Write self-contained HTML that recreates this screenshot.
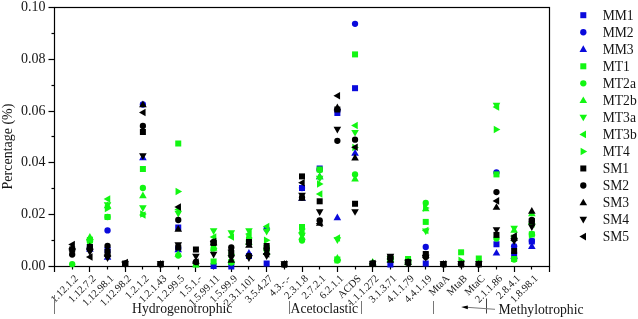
<!DOCTYPE html>
<html><head><meta charset="utf-8"><style>
html,body{margin:0;padding:0;background:#fff;}
body{width:638px;height:319px;overflow:hidden;}
svg{display:block;will-change:transform;}
.t{font-family:"Liberation Serif",serif;font-size:14px;fill:#151515;}
.xl{font-family:"Liberation Serif",serif;font-size:10.5px;fill:#151515;}
.g{font-family:"Liberation Serif",serif;font-size:13.7px;fill:#151515;}
.lg{font-family:"Liberation Serif",serif;font-size:13.6px;fill:#151515;}
</style></head><body>
<svg width="638" height="319" viewBox="0 0 638 319">
<defs><clipPath id="pc"><rect x="54" y="7" width="495" height="259"/></clipPath></defs>
<rect x="54.5" y="7.5" width="495.0" height="259.0" fill="none" stroke="#000" stroke-width="1.2"/>
<line x1="48.5" y1="266.5" x2="54.5" y2="266.5" stroke="#000" stroke-width="1.2"/>
<text x="45.5" y="269.90" text-anchor="end" class="t">0.00</text>
<line x1="51.5" y1="240.5" x2="54.5" y2="240.5" stroke="#000" stroke-width="1.2"/>
<line x1="48.5" y1="214.5" x2="54.5" y2="214.5" stroke="#000" stroke-width="1.2"/>
<text x="45.5" y="217.90" text-anchor="end" class="t">0.02</text>
<line x1="51.5" y1="188.5" x2="54.5" y2="188.5" stroke="#000" stroke-width="1.2"/>
<line x1="48.5" y1="162.5" x2="54.5" y2="162.5" stroke="#000" stroke-width="1.2"/>
<text x="45.5" y="165.90" text-anchor="end" class="t">0.04</text>
<line x1="51.5" y1="136.5" x2="54.5" y2="136.5" stroke="#000" stroke-width="1.2"/>
<line x1="48.5" y1="111.5" x2="54.5" y2="111.5" stroke="#000" stroke-width="1.2"/>
<text x="45.5" y="114.90" text-anchor="end" class="t">0.06</text>
<line x1="51.5" y1="85.5" x2="54.5" y2="85.5" stroke="#000" stroke-width="1.2"/>
<line x1="48.5" y1="59.5" x2="54.5" y2="59.5" stroke="#000" stroke-width="1.2"/>
<text x="45.5" y="62.90" text-anchor="end" class="t">0.08</text>
<line x1="51.5" y1="33.5" x2="54.5" y2="33.5" stroke="#000" stroke-width="1.2"/>
<line x1="48.5" y1="7.5" x2="54.5" y2="7.5" stroke="#000" stroke-width="1.2"/>
<text x="45.5" y="10.90" text-anchor="end" class="t">0.10</text>
<line x1="54.5" y1="266.5" x2="54.5" y2="272.0" stroke="#000" stroke-width="1.2"/>
<line x1="72.5" y1="266.5" x2="72.5" y2="269.5" stroke="#000" stroke-width="1.2"/>
<line x1="89.5" y1="266.5" x2="89.5" y2="272.0" stroke="#000" stroke-width="1.2"/>
<line x1="107.5" y1="266.5" x2="107.5" y2="269.5" stroke="#000" stroke-width="1.2"/>
<line x1="125.5" y1="266.5" x2="125.5" y2="272.0" stroke="#000" stroke-width="1.2"/>
<line x1="142.5" y1="266.5" x2="142.5" y2="269.5" stroke="#000" stroke-width="1.2"/>
<line x1="160.5" y1="266.5" x2="160.5" y2="272.0" stroke="#000" stroke-width="1.2"/>
<line x1="178.5" y1="266.5" x2="178.5" y2="269.5" stroke="#000" stroke-width="1.2"/>
<line x1="195.5" y1="266.5" x2="195.5" y2="272.0" stroke="#000" stroke-width="1.2"/>
<line x1="213.5" y1="266.5" x2="213.5" y2="269.5" stroke="#000" stroke-width="1.2"/>
<line x1="231.5" y1="266.5" x2="231.5" y2="272.0" stroke="#000" stroke-width="1.2"/>
<line x1="248.5" y1="266.5" x2="248.5" y2="269.5" stroke="#000" stroke-width="1.2"/>
<line x1="266.5" y1="266.5" x2="266.5" y2="272.0" stroke="#000" stroke-width="1.2"/>
<line x1="284.5" y1="266.5" x2="284.5" y2="269.5" stroke="#000" stroke-width="1.2"/>
<line x1="302.5" y1="266.5" x2="302.5" y2="272.0" stroke="#000" stroke-width="1.2"/>
<line x1="319.5" y1="266.5" x2="319.5" y2="269.5" stroke="#000" stroke-width="1.2"/>
<line x1="337.5" y1="266.5" x2="337.5" y2="272.0" stroke="#000" stroke-width="1.2"/>
<line x1="355.5" y1="266.5" x2="355.5" y2="269.5" stroke="#000" stroke-width="1.2"/>
<line x1="372.5" y1="266.5" x2="372.5" y2="272.0" stroke="#000" stroke-width="1.2"/>
<line x1="390.5" y1="266.5" x2="390.5" y2="269.5" stroke="#000" stroke-width="1.2"/>
<line x1="408.5" y1="266.5" x2="408.5" y2="272.0" stroke="#000" stroke-width="1.2"/>
<line x1="425.5" y1="266.5" x2="425.5" y2="269.5" stroke="#000" stroke-width="1.2"/>
<line x1="443.5" y1="266.5" x2="443.5" y2="272.0" stroke="#000" stroke-width="1.2"/>
<line x1="461.5" y1="266.5" x2="461.5" y2="269.5" stroke="#000" stroke-width="1.2"/>
<line x1="478.5" y1="266.5" x2="478.5" y2="272.0" stroke="#000" stroke-width="1.2"/>
<line x1="496.5" y1="266.5" x2="496.5" y2="269.5" stroke="#000" stroke-width="1.2"/>
<line x1="514.5" y1="266.5" x2="514.5" y2="272.0" stroke="#000" stroke-width="1.2"/>
<line x1="531.5" y1="266.5" x2="531.5" y2="269.5" stroke="#000" stroke-width="1.2"/>
<line x1="549.5" y1="266.5" x2="549.5" y2="272.0" stroke="#000" stroke-width="1.2"/>
<text transform="translate(78.78,279) rotate(-45)" text-anchor="end" class="xl">1.12.1.2</text>
<text transform="translate(96.46,279) rotate(-45)" text-anchor="end" class="xl">1.12.7.2</text>
<text transform="translate(114.14,279) rotate(-45)" text-anchor="end" class="xl">1.12.98.1</text>
<text transform="translate(131.81,279) rotate(-45)" text-anchor="end" class="xl">1.12.98.2</text>
<text transform="translate(149.49,279) rotate(-45)" text-anchor="end" class="xl">1.2.1.2</text>
<text transform="translate(167.17,279) rotate(-45)" text-anchor="end" class="xl">1.2.1.43</text>
<text transform="translate(184.85,279) rotate(-45)" text-anchor="end" class="xl">1.2.99.5</text>
<text transform="translate(202.53,279) rotate(-45)" text-anchor="end" class="xl">1.5.1.-</text>
<text transform="translate(220.21,279) rotate(-45)" text-anchor="end" class="xl">1.5.99.11</text>
<text transform="translate(237.89,279) rotate(-45)" text-anchor="end" class="xl">1.5.99.9</text>
<text transform="translate(255.56,279) rotate(-45)" text-anchor="end" class="xl">2.3.1.101</text>
<text transform="translate(273.24,279) rotate(-45)" text-anchor="end" class="xl">3.5.4.27</text>
<text transform="translate(290.92,279) rotate(-45)" text-anchor="end" class="xl">4.3.-.-</text>
<text transform="translate(308.60,279) rotate(-45)" text-anchor="end" class="xl">2.3.1.8</text>
<text transform="translate(326.28,279) rotate(-45)" text-anchor="end" class="xl">2.7.2.1</text>
<text transform="translate(343.96,279) rotate(-45)" text-anchor="end" class="xl">6.2.1.1</text>
<text transform="translate(361.64,279) rotate(-45)" text-anchor="end" class="xl">ACDS</text>
<text transform="translate(379.31,279) rotate(-45)" text-anchor="end" class="xl">1.1.1.272</text>
<text transform="translate(396.99,279) rotate(-45)" text-anchor="end" class="xl">3.1.3.71</text>
<text transform="translate(414.67,279) rotate(-45)" text-anchor="end" class="xl">4.1.1.79</text>
<text transform="translate(432.35,279) rotate(-45)" text-anchor="end" class="xl">4.4.1.19</text>
<text transform="translate(450.03,279) rotate(-45)" text-anchor="end" class="xl">MtaA</text>
<text transform="translate(467.71,279) rotate(-45)" text-anchor="end" class="xl">MtaB</text>
<text transform="translate(485.39,279) rotate(-45)" text-anchor="end" class="xl">MtaC</text>
<text transform="translate(503.06,279) rotate(-45)" text-anchor="end" class="xl">2.1.1.86</text>
<text transform="translate(520.74,279) rotate(-45)" text-anchor="end" class="xl">2.8.4.1</text>
<text transform="translate(538.42,279) rotate(-45)" text-anchor="end" class="xl">1.8.98.1</text>
<text transform="translate(12,146.5) rotate(-90)" text-anchor="middle" class="t">Percentage (%)</text>
<line x1="54.5" y1="295" x2="54.5" y2="314" stroke="#777" stroke-width="1"/>
<text x="132" y="312.8" class="g">Hydrogenotrophic</text>
<line x1="289.5" y1="301" x2="289.5" y2="314" stroke="#777" stroke-width="1"/>
<text x="290.5" y="312.8" class="g">Acetoclastic</text>
<line x1="361.5" y1="301" x2="361.5" y2="314" stroke="#777" stroke-width="1"/>
<line x1="433.5" y1="301" x2="433.5" y2="314" stroke="#777" stroke-width="1"/>
<line x1="486.5" y1="298.5" x2="486.5" y2="313.5" stroke="#444" stroke-width="1"/>
<line x1="467" y1="307.3" x2="495" y2="309.3" stroke="#777" stroke-width="1"/>
<polygon points="461.2,307.1 467.8,305.6 467.8,309.2" fill="#000"/>
<text x="498.4" y="313.7" class="g">Methylotrophic</text>
<rect x="86.86" y="244.00" width="6" height="6" fill="#0a0adc"/>
<rect x="104.54" y="247.00" width="6" height="6" fill="#0a0adc"/>
<rect x="175.25" y="224.50" width="6" height="6" fill="#0a0adc"/>
<rect x="210.61" y="263.00" width="6" height="6" fill="#0a0adc"/>
<rect x="228.29" y="263.50" width="6" height="6" fill="#0a0adc"/>
<rect x="245.96" y="253.00" width="6" height="6" fill="#0a0adc"/>
<rect x="263.64" y="260.50" width="6" height="6" fill="#0a0adc"/>
<rect x="299.00" y="185.00" width="6" height="6" fill="#0a0adc"/>
<rect x="316.68" y="165.50" width="6" height="6" fill="#0a0adc"/>
<rect x="334.36" y="110.00" width="6" height="6" fill="#0a0adc"/>
<rect x="352.04" y="85.20" width="6" height="6" fill="#0a0adc"/>
<rect x="387.39" y="261.50" width="6" height="6" fill="#0a0adc"/>
<rect x="422.75" y="260.50" width="6" height="6" fill="#0a0adc"/>
<rect x="493.46" y="241.25" width="6" height="6" fill="#0a0adc"/>
<rect x="511.14" y="251.80" width="6" height="6" fill="#0a0adc"/>
<rect x="528.82" y="238.50" width="6" height="6" fill="#0a0adc"/>
<circle cx="89.86" cy="249.00" r="3.15" fill="#0a0adc"/>
<circle cx="107.54" cy="230.40" r="3.15" fill="#0a0adc"/>
<circle cx="142.89" cy="104.50" r="3.15" fill="#0a0adc"/>
<circle cx="178.25" cy="248.00" r="3.15" fill="#0a0adc"/>
<circle cx="266.64" cy="229.00" r="3.15" fill="#0a0adc"/>
<circle cx="302.00" cy="188.00" r="3.15" fill="#0a0adc"/>
<circle cx="319.68" cy="169.50" r="3.15" fill="#0a0adc"/>
<circle cx="337.36" cy="110.00" r="3.15" fill="#0a0adc"/>
<circle cx="355.04" cy="23.80" r="3.15" fill="#0a0adc"/>
<circle cx="425.75" cy="247.00" r="3.15" fill="#0a0adc"/>
<circle cx="496.46" cy="172.50" r="3.15" fill="#0a0adc"/>
<circle cx="514.14" cy="246.20" r="3.15" fill="#0a0adc"/>
<circle cx="531.82" cy="241.00" r="3.15" fill="#0a0adc"/>
<polygon points="89.86,245.10 93.66,251.70 86.06,251.70" fill="#0a0adc"/>
<polygon points="107.54,253.10 111.34,259.70 103.74,259.70" fill="#0a0adc"/>
<polygon points="142.89,153.60 146.69,160.20 139.09,160.20" fill="#0a0adc"/>
<polygon points="178.25,245.60 182.05,252.20 174.45,252.20" fill="#0a0adc"/>
<polygon points="248.96,249.10 252.76,255.70 245.16,255.70" fill="#0a0adc"/>
<polygon points="302.00,194.10 305.80,200.70 298.20,200.70" fill="#0a0adc"/>
<polygon points="319.68,172.60 323.48,179.20 315.88,179.20" fill="#0a0adc"/>
<polygon points="337.36,213.60 341.16,220.20 333.56,220.20" fill="#0a0adc"/>
<polygon points="355.04,149.10 358.84,155.70 351.24,155.70" fill="#0a0adc"/>
<polygon points="496.46,248.90 500.26,255.50 492.66,255.50" fill="#0a0adc"/>
<polygon points="514.14,252.10 517.94,258.70 510.34,258.70" fill="#0a0adc"/>
<polygon points="531.82,242.30 535.62,248.90 528.02,248.90" fill="#0a0adc"/>
<rect x="86.86" y="237.00" width="6" height="6" fill="#12f612"/>
<rect x="104.54" y="214.00" width="6" height="6" fill="#12f612"/>
<rect x="139.89" y="166.00" width="6" height="6" fill="#12f612"/>
<rect x="175.25" y="140.50" width="6" height="6" fill="#12f612"/>
<rect x="192.93" y="261.50" width="6" height="6" fill="#12f612"/>
<rect x="210.61" y="258.50" width="6" height="6" fill="#12f612"/>
<rect x="228.29" y="259.00" width="6" height="6" fill="#12f612"/>
<rect x="245.96" y="237.00" width="6" height="6" fill="#12f612"/>
<rect x="263.64" y="245.00" width="6" height="6" fill="#12f612"/>
<rect x="299.00" y="224.00" width="6" height="6" fill="#12f612"/>
<rect x="316.68" y="166.50" width="6" height="6" fill="#12f612"/>
<rect x="334.36" y="256.50" width="6" height="6" fill="#12f612"/>
<rect x="352.04" y="51.40" width="6" height="6" fill="#12f612"/>
<rect x="387.39" y="256.00" width="6" height="6" fill="#12f612"/>
<rect x="405.07" y="256.00" width="6" height="6" fill="#12f612"/>
<rect x="422.75" y="218.90" width="6" height="6" fill="#12f612"/>
<rect x="458.11" y="249.30" width="6" height="6" fill="#12f612"/>
<rect x="475.79" y="255.50" width="6" height="6" fill="#12f612"/>
<rect x="493.46" y="171.40" width="6" height="6" fill="#12f612"/>
<rect x="511.14" y="256.00" width="6" height="6" fill="#12f612"/>
<rect x="528.82" y="231.50" width="6" height="6" fill="#12f612"/>
<circle cx="72.18" cy="264.20" r="3.15" fill="#12f612"/>
<circle cx="89.86" cy="241.00" r="3.15" fill="#12f612"/>
<circle cx="107.54" cy="217.00" r="3.15" fill="#12f612"/>
<circle cx="142.89" cy="188.00" r="3.15" fill="#12f612"/>
<circle cx="178.25" cy="255.50" r="3.15" fill="#12f612"/>
<circle cx="213.61" cy="248.50" r="3.15" fill="#12f612"/>
<circle cx="231.29" cy="262.50" r="3.15" fill="#12f612"/>
<circle cx="248.96" cy="241.00" r="3.15" fill="#12f612"/>
<circle cx="266.64" cy="250.00" r="3.15" fill="#12f612"/>
<circle cx="302.00" cy="240.50" r="3.15" fill="#12f612"/>
<circle cx="319.68" cy="170.00" r="3.15" fill="#12f612"/>
<circle cx="337.36" cy="260.50" r="3.15" fill="#12f612"/>
<circle cx="355.04" cy="174.40" r="3.15" fill="#12f612"/>
<circle cx="390.39" cy="259.00" r="3.15" fill="#12f612"/>
<circle cx="408.07" cy="262.00" r="3.15" fill="#12f612"/>
<circle cx="425.75" cy="203.00" r="3.15" fill="#12f612"/>
<circle cx="496.46" cy="238.60" r="3.15" fill="#12f612"/>
<circle cx="514.14" cy="259.50" r="3.15" fill="#12f612"/>
<circle cx="531.82" cy="234.00" r="3.15" fill="#12f612"/>
<polygon points="89.86,233.10 93.66,239.70 86.06,239.70" fill="#12f612"/>
<polygon points="107.54,201.60 111.34,208.20 103.74,208.20" fill="#12f612"/>
<polygon points="142.89,191.60 146.69,198.20 139.09,198.20" fill="#12f612"/>
<polygon points="178.25,250.10 182.05,256.70 174.45,256.70" fill="#12f612"/>
<polygon points="195.93,260.60 199.73,267.20 192.13,267.20" fill="#12f612"/>
<polygon points="213.61,244.10 217.41,250.70 209.81,250.70" fill="#12f612"/>
<polygon points="248.96,238.10 252.76,244.70 245.16,244.70" fill="#12f612"/>
<polygon points="266.64,248.10 270.44,254.70 262.84,254.70" fill="#12f612"/>
<polygon points="302.00,233.10 305.80,239.70 298.20,239.70" fill="#12f612"/>
<polygon points="319.68,172.60 323.48,179.20 315.88,179.20" fill="#12f612"/>
<polygon points="337.36,254.10 341.16,260.70 333.56,260.70" fill="#12f612"/>
<polygon points="355.04,174.85 358.84,181.45 351.24,181.45" fill="#12f612"/>
<polygon points="372.71,258.10 376.51,264.70 368.91,264.70" fill="#12f612"/>
<polygon points="390.39,255.10 394.19,261.70 386.59,261.70" fill="#12f612"/>
<polygon points="408.07,258.10 411.87,264.70 404.27,264.70" fill="#12f612"/>
<polygon points="425.75,204.60 429.55,211.20 421.95,211.20" fill="#12f612"/>
<polygon points="514.14,226.10 517.94,232.70 510.34,232.70" fill="#12f612"/>
<polygon points="531.82,209.60 535.62,216.20 528.02,216.20" fill="#12f612"/>
<polygon points="89.86,245.90 93.66,239.30 86.06,239.30" fill="#12f612"/>
<polygon points="107.54,208.90 111.34,202.30 103.74,202.30" fill="#12f612"/>
<polygon points="142.89,211.90 146.69,205.30 139.09,205.30" fill="#12f612"/>
<polygon points="178.25,217.40 182.05,210.80 174.45,210.80" fill="#12f612"/>
<polygon points="213.61,234.90 217.41,228.30 209.81,228.30" fill="#12f612"/>
<polygon points="231.29,236.90 235.09,230.30 227.49,230.30" fill="#12f612"/>
<polygon points="248.96,234.90 252.76,228.30 245.16,228.30" fill="#12f612"/>
<polygon points="266.64,235.40 270.44,228.80 262.84,228.80" fill="#12f612"/>
<polygon points="302.00,239.40 305.80,232.80 298.20,232.80" fill="#12f612"/>
<polygon points="319.68,182.40 323.48,175.80 315.88,175.80" fill="#12f612"/>
<polygon points="337.36,243.90 341.16,237.30 333.56,237.30" fill="#12f612"/>
<polygon points="355.04,136.50 358.84,129.90 351.24,129.90" fill="#12f612"/>
<polygon points="390.39,262.90 394.19,256.30 386.59,256.30" fill="#12f612"/>
<polygon points="408.07,265.90 411.87,259.30 404.27,259.30" fill="#12f612"/>
<polygon points="425.75,235.20 429.55,228.60 421.95,228.60" fill="#12f612"/>
<polygon points="496.46,109.40 500.26,102.80 492.66,102.80" fill="#12f612"/>
<polygon points="514.14,232.40 517.94,225.80 510.34,225.80" fill="#12f612"/>
<polygon points="531.82,229.90 535.62,223.30 528.02,223.30" fill="#12f612"/>
<polygon points="85.96,240.00 92.56,236.20 92.56,243.80" fill="#12f612"/>
<polygon points="103.64,199.00 110.24,195.20 110.24,202.80" fill="#12f612"/>
<polygon points="138.99,215.00 145.59,211.20 145.59,218.80" fill="#12f612"/>
<polygon points="174.35,209.50 180.95,205.70 180.95,213.30" fill="#12f612"/>
<polygon points="209.71,237.00 216.31,233.20 216.31,240.80" fill="#12f612"/>
<polygon points="227.39,237.00 233.99,233.20 233.99,240.80" fill="#12f612"/>
<polygon points="245.06,234.00 251.66,230.20 251.66,237.80" fill="#12f612"/>
<polygon points="262.74,226.50 269.34,222.70 269.34,230.30" fill="#12f612"/>
<polygon points="298.10,232.50 304.70,228.70 304.70,236.30" fill="#12f612"/>
<polygon points="315.78,194.00 322.38,190.20 322.38,197.80" fill="#12f612"/>
<polygon points="333.46,238.00 340.06,234.20 340.06,241.80" fill="#12f612"/>
<polygon points="351.14,125.50 357.74,121.70 357.74,129.30" fill="#12f612"/>
<polygon points="386.49,259.00 393.09,255.20 393.09,262.80" fill="#12f612"/>
<polygon points="404.17,262.00 410.77,258.20 410.77,265.80" fill="#12f612"/>
<polygon points="421.85,230.50 428.45,226.70 428.45,234.30" fill="#12f612"/>
<polygon points="492.56,107.00 499.16,103.20 499.16,110.80" fill="#12f612"/>
<polygon points="510.24,237.00 516.84,233.20 516.84,240.80" fill="#12f612"/>
<polygon points="527.92,224.00 534.52,220.20 534.52,227.80" fill="#12f612"/>
<polygon points="93.76,241.00 87.16,237.20 87.16,244.80" fill="#12f612"/>
<polygon points="111.44,208.50 104.84,204.70 104.84,212.30" fill="#12f612"/>
<polygon points="146.79,214.00 140.19,210.20 140.19,217.80" fill="#12f612"/>
<polygon points="182.15,191.50 175.55,187.70 175.55,195.30" fill="#12f612"/>
<polygon points="217.51,248.50 210.91,244.70 210.91,252.30" fill="#12f612"/>
<polygon points="235.19,254.30 228.59,250.50 228.59,258.10" fill="#12f612"/>
<polygon points="252.86,238.00 246.26,234.20 246.26,241.80" fill="#12f612"/>
<polygon points="270.54,240.30 263.94,236.50 263.94,244.10" fill="#12f612"/>
<polygon points="305.90,229.00 299.30,225.20 299.30,232.80" fill="#12f612"/>
<polygon points="323.58,184.00 316.98,180.20 316.98,187.80" fill="#12f612"/>
<polygon points="341.26,260.00 334.66,256.20 334.66,263.80" fill="#12f612"/>
<polygon points="358.94,147.50 352.34,143.70 352.34,151.30" fill="#12f612"/>
<polygon points="394.29,259.00 387.69,255.20 387.69,262.80" fill="#12f612"/>
<polygon points="411.97,262.00 405.37,258.20 405.37,265.80" fill="#12f612"/>
<polygon points="429.65,208.00 423.05,204.20 423.05,211.80" fill="#12f612"/>
<polygon points="465.01,260.40 458.41,256.60 458.41,264.20" fill="#12f612"/>
<polygon points="500.36,129.50 493.76,125.70 493.76,133.30" fill="#12f612"/>
<polygon points="518.04,238.00 511.44,234.20 511.44,241.80" fill="#12f612"/>
<polygon points="535.72,235.00 529.12,231.20 529.12,238.80" fill="#12f612"/>
<rect x="69.18" y="246.50" width="6" height="6" fill="#000"/>
<rect x="86.86" y="244.00" width="6" height="6" fill="#000"/>
<rect x="104.54" y="249.00" width="6" height="6" fill="#000"/>
<rect x="122.21" y="260.50" width="6" height="6" fill="#000"/>
<rect x="139.89" y="129.00" width="6" height="6" fill="#000"/>
<rect x="157.57" y="261.00" width="6" height="6" fill="#000"/>
<rect x="175.25" y="244.50" width="6" height="6" fill="#000"/>
<rect x="192.93" y="246.50" width="6" height="6" fill="#000"/>
<rect x="210.61" y="240.00" width="6" height="6" fill="#000"/>
<rect x="228.29" y="250.00" width="6" height="6" fill="#000"/>
<rect x="245.96" y="239.00" width="6" height="6" fill="#000"/>
<rect x="263.64" y="243.00" width="6" height="6" fill="#000"/>
<rect x="281.32" y="261.50" width="6" height="6" fill="#000"/>
<rect x="299.00" y="173.40" width="6" height="6" fill="#000"/>
<rect x="316.68" y="198.30" width="6" height="6" fill="#000"/>
<rect x="334.36" y="106.50" width="6" height="6" fill="#000"/>
<rect x="352.04" y="200.75" width="6" height="6" fill="#000"/>
<rect x="369.71" y="260.50" width="6" height="6" fill="#000"/>
<rect x="387.39" y="254.00" width="6" height="6" fill="#000"/>
<rect x="405.07" y="259.00" width="6" height="6" fill="#000"/>
<rect x="422.75" y="251.00" width="6" height="6" fill="#000"/>
<rect x="440.43" y="261.00" width="6" height="6" fill="#000"/>
<rect x="458.11" y="261.00" width="6" height="6" fill="#000"/>
<rect x="475.79" y="261.00" width="6" height="6" fill="#000"/>
<rect x="493.46" y="231.90" width="6" height="6" fill="#000"/>
<rect x="511.14" y="248.00" width="6" height="6" fill="#000"/>
<rect x="528.82" y="218.00" width="6" height="6" fill="#000"/>
<circle cx="72.18" cy="254.50" r="3.15" fill="#000"/>
<circle cx="89.86" cy="248.00" r="3.15" fill="#000"/>
<circle cx="107.54" cy="246.00" r="3.15" fill="#000"/>
<circle cx="125.21" cy="264.00" r="3.15" fill="#000"/>
<circle cx="142.89" cy="126.00" r="3.15" fill="#000"/>
<circle cx="160.57" cy="264.50" r="3.15" fill="#000"/>
<circle cx="178.25" cy="220.00" r="3.15" fill="#000"/>
<circle cx="195.93" cy="262.00" r="3.15" fill="#000"/>
<circle cx="213.61" cy="242.00" r="3.15" fill="#000"/>
<circle cx="231.29" cy="247.50" r="3.15" fill="#000"/>
<circle cx="248.96" cy="256.00" r="3.15" fill="#000"/>
<circle cx="266.64" cy="249.00" r="3.15" fill="#000"/>
<circle cx="284.32" cy="264.50" r="3.15" fill="#000"/>
<circle cx="302.00" cy="197.50" r="3.15" fill="#000"/>
<circle cx="319.68" cy="220.50" r="3.15" fill="#000"/>
<circle cx="337.36" cy="140.80" r="3.15" fill="#000"/>
<circle cx="355.04" cy="139.70" r="3.15" fill="#000"/>
<circle cx="372.71" cy="264.00" r="3.15" fill="#000"/>
<circle cx="390.39" cy="258.00" r="3.15" fill="#000"/>
<circle cx="408.07" cy="263.00" r="3.15" fill="#000"/>
<circle cx="425.75" cy="257.00" r="3.15" fill="#000"/>
<circle cx="443.43" cy="264.50" r="3.15" fill="#000"/>
<circle cx="461.11" cy="264.50" r="3.15" fill="#000"/>
<circle cx="478.79" cy="264.50" r="3.15" fill="#000"/>
<circle cx="496.46" cy="192.10" r="3.15" fill="#000"/>
<circle cx="514.14" cy="239.00" r="3.15" fill="#000"/>
<circle cx="531.82" cy="220.00" r="3.15" fill="#000"/>
<polygon points="72.18,243.60 75.98,250.20 68.38,250.20" fill="#000"/>
<polygon points="89.86,242.60 93.66,249.20 86.06,249.20" fill="#000"/>
<polygon points="107.54,250.10 111.34,256.70 103.74,256.70" fill="#000"/>
<polygon points="125.21,260.10 129.01,266.70 121.41,266.70" fill="#000"/>
<polygon points="142.89,100.60 146.69,107.20 139.09,107.20" fill="#000"/>
<polygon points="160.57,260.10 164.37,266.70 156.77,266.70" fill="#000"/>
<polygon points="178.25,225.10 182.05,231.70 174.45,231.70" fill="#000"/>
<polygon points="195.93,257.10 199.73,263.70 192.13,263.70" fill="#000"/>
<polygon points="213.61,238.60 217.41,245.20 209.81,245.20" fill="#000"/>
<polygon points="231.29,256.10 235.09,262.70 227.49,262.70" fill="#000"/>
<polygon points="248.96,241.10 252.76,247.70 245.16,247.70" fill="#000"/>
<polygon points="266.64,248.10 270.44,254.70 262.84,254.70" fill="#000"/>
<polygon points="284.32,260.10 288.12,266.70 280.52,266.70" fill="#000"/>
<polygon points="302.00,194.10 305.80,200.70 298.20,200.70" fill="#000"/>
<polygon points="319.68,219.10 323.48,225.70 315.88,225.70" fill="#000"/>
<polygon points="337.36,103.60 341.16,110.20 333.56,110.20" fill="#000"/>
<polygon points="355.04,153.80 358.84,160.40 351.24,160.40" fill="#000"/>
<polygon points="372.71,259.10 376.51,265.70 368.91,265.70" fill="#000"/>
<polygon points="390.39,256.10 394.19,262.70 386.59,262.70" fill="#000"/>
<polygon points="408.07,258.10 411.87,264.70 404.27,264.70" fill="#000"/>
<polygon points="425.75,251.10 429.55,257.70 421.95,257.70" fill="#000"/>
<polygon points="443.43,260.10 447.23,266.70 439.63,266.70" fill="#000"/>
<polygon points="461.11,260.10 464.91,266.70 457.31,266.70" fill="#000"/>
<polygon points="478.79,260.10 482.59,266.70 474.99,266.70" fill="#000"/>
<polygon points="496.46,203.20 500.26,209.80 492.66,209.80" fill="#000"/>
<polygon points="514.14,234.10 517.94,240.70 510.34,240.70" fill="#000"/>
<polygon points="531.82,207.10 535.62,213.70 528.02,213.70" fill="#000"/>
<polygon points="72.18,254.90 75.98,248.30 68.38,248.30" fill="#000"/>
<polygon points="89.86,255.90 93.66,249.30 86.06,249.30" fill="#000"/>
<polygon points="107.54,261.90 111.34,255.30 103.74,255.30" fill="#000"/>
<polygon points="125.21,267.90 129.01,261.30 121.41,261.30" fill="#000"/>
<polygon points="142.89,159.90 146.69,153.30 139.09,153.30" fill="#000"/>
<polygon points="160.57,267.90 164.37,261.30 156.77,261.30" fill="#000"/>
<polygon points="178.25,248.90 182.05,242.30 174.45,242.30" fill="#000"/>
<polygon points="195.93,260.40 199.73,253.80 192.13,253.80" fill="#000"/>
<polygon points="213.61,258.40 217.41,251.80 209.81,251.80" fill="#000"/>
<polygon points="231.29,261.90 235.09,255.30 227.49,255.30" fill="#000"/>
<polygon points="248.96,261.90 252.76,255.30 245.16,255.30" fill="#000"/>
<polygon points="266.64,259.90 270.44,253.30 262.84,253.30" fill="#000"/>
<polygon points="284.32,267.90 288.12,261.30 280.52,261.30" fill="#000"/>
<polygon points="302.00,199.40 305.80,192.80 298.20,192.80" fill="#000"/>
<polygon points="319.68,215.90 323.48,209.30 315.88,209.30" fill="#000"/>
<polygon points="337.36,133.40 341.16,126.80 333.56,126.80" fill="#000"/>
<polygon points="355.04,215.80 358.84,209.20 351.24,209.20" fill="#000"/>
<polygon points="372.71,267.90 376.51,261.30 368.91,261.30" fill="#000"/>
<polygon points="390.39,260.40 394.19,253.80 386.59,253.80" fill="#000"/>
<polygon points="408.07,266.90 411.87,260.30 404.27,260.30" fill="#000"/>
<polygon points="425.75,261.40 429.55,254.80 421.95,254.80" fill="#000"/>
<polygon points="443.43,267.90 447.23,261.30 439.63,261.30" fill="#000"/>
<polygon points="461.11,267.90 464.91,261.30 457.31,261.30" fill="#000"/>
<polygon points="478.79,267.90 482.59,261.30 474.99,261.30" fill="#000"/>
<polygon points="496.46,233.80 500.26,227.20 492.66,227.20" fill="#000"/>
<polygon points="514.14,244.90 517.94,238.30 510.34,238.30" fill="#000"/>
<polygon points="531.82,230.90 535.62,224.30 528.02,224.30" fill="#000"/>
<polygon points="68.28,244.50 74.88,240.70 74.88,248.30" fill="#000"/>
<polygon points="85.96,257.00 92.56,253.20 92.56,260.80" fill="#000"/>
<polygon points="103.64,255.00 110.24,251.20 110.24,258.80" fill="#000"/>
<polygon points="121.31,262.50 127.91,258.70 127.91,266.30" fill="#000"/>
<polygon points="138.99,112.50 145.59,108.70 145.59,116.30" fill="#000"/>
<polygon points="156.67,264.00 163.27,260.20 163.27,267.80" fill="#000"/>
<polygon points="174.35,207.00 180.95,203.20 180.95,210.80" fill="#000"/>
<polygon points="192.03,262.00 198.63,258.20 198.63,265.80" fill="#000"/>
<polygon points="209.71,241.50 216.31,237.70 216.31,245.30" fill="#000"/>
<polygon points="227.39,250.00 233.99,246.20 233.99,253.80" fill="#000"/>
<polygon points="245.06,244.00 251.66,240.20 251.66,247.80" fill="#000"/>
<polygon points="262.74,254.00 269.34,250.20 269.34,257.80" fill="#000"/>
<polygon points="280.42,264.00 287.02,260.20 287.02,267.80" fill="#000"/>
<polygon points="298.10,182.70 304.70,178.90 304.70,186.50" fill="#000"/>
<polygon points="315.78,223.50 322.38,219.70 322.38,227.30" fill="#000"/>
<polygon points="333.46,95.80 340.06,92.00 340.06,99.60" fill="#000"/>
<polygon points="351.14,147.20 357.74,143.40 357.74,151.00" fill="#000"/>
<polygon points="368.81,263.50 375.41,259.70 375.41,267.30" fill="#000"/>
<polygon points="386.49,259.00 393.09,255.20 393.09,262.80" fill="#000"/>
<polygon points="404.17,263.00 410.77,259.20 410.77,266.80" fill="#000"/>
<polygon points="421.85,255.50 428.45,251.70 428.45,259.30" fill="#000"/>
<polygon points="439.53,264.00 446.13,260.20 446.13,267.80" fill="#000"/>
<polygon points="457.21,264.00 463.81,260.20 463.81,267.80" fill="#000"/>
<polygon points="474.89,264.00 481.49,260.20 481.49,267.80" fill="#000"/>
<polygon points="492.56,200.90 499.16,197.10 499.16,204.70" fill="#000"/>
<polygon points="510.24,236.00 516.84,232.20 516.84,239.80" fill="#000"/>
<polygon points="527.92,222.00 534.52,218.20 534.52,225.80" fill="#000"/>
<rect x="580.30" y="12.20" width="6" height="6" fill="#0a0adc"/>
<text x="602.7" y="19.80" class="lg">MM1</text>
<circle cx="583.30" cy="32.23" r="3.15" fill="#0a0adc"/>
<text x="602.7" y="36.83" class="lg">MM2</text>
<polygon points="583.30,45.36 587.10,51.96 579.50,51.96" fill="#0a0adc"/>
<text x="602.7" y="53.86" class="lg">MM3</text>
<rect x="580.30" y="63.29" width="6" height="6" fill="#12f612"/>
<text x="602.7" y="70.89" class="lg">MT1</text>
<circle cx="583.30" cy="83.32" r="3.15" fill="#12f612"/>
<text x="602.7" y="87.92" class="lg">MT2a</text>
<polygon points="583.30,96.45 587.10,103.05 579.50,103.05" fill="#12f612"/>
<text x="602.7" y="104.95" class="lg">MT2b</text>
<polygon points="583.30,121.28 587.10,114.68 579.50,114.68" fill="#12f612"/>
<text x="602.7" y="121.98" class="lg">MT3a</text>
<polygon points="579.40,134.41 586.00,130.61 586.00,138.21" fill="#12f612"/>
<text x="602.7" y="139.01" class="lg">MT3b</text>
<polygon points="587.20,151.44 580.60,147.64 580.60,155.24" fill="#12f612"/>
<text x="602.7" y="156.04" class="lg">MT4</text>
<rect x="580.30" y="165.47" width="6" height="6" fill="#000"/>
<text x="602.7" y="173.07" class="lg">SM1</text>
<circle cx="583.30" cy="185.50" r="3.15" fill="#000"/>
<text x="602.7" y="190.10" class="lg">SM2</text>
<polygon points="583.30,198.63 587.10,205.23 579.50,205.23" fill="#000"/>
<text x="602.7" y="207.13" class="lg">SM3</text>
<polygon points="583.30,223.46 587.10,216.86 579.50,216.86" fill="#000"/>
<text x="602.7" y="224.16" class="lg">SM4</text>
<polygon points="579.40,236.59 586.00,232.79 586.00,240.39" fill="#000"/>
<text x="602.7" y="241.19" class="lg">SM5</text>
</svg>
</body></html>
